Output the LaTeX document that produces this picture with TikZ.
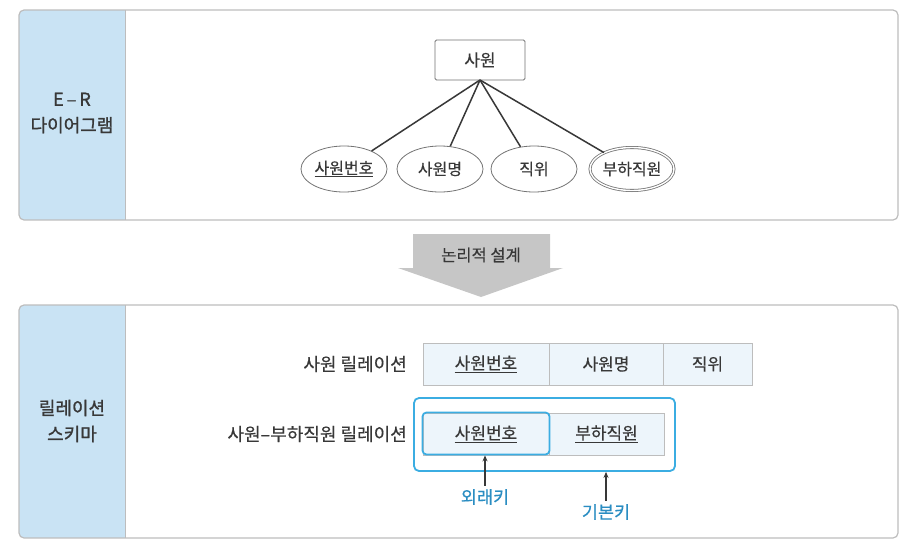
\documentclass[tikz,border=0pt]{standalone}
\usepackage{fontspec}
\setmainfont{Noto Sans CJK KR}
\newfontfamily\sidefont[FakeBold=1.2]{Noto Sans CJK KR}
\newfontfamily\bodyfont[FakeBold=0.4]{Noto Sans CJK KR}
\usetikzlibrary{shapes.geometric,arrows.meta}
\definecolor{sideblue}{HTML}{C9E3F4}
\definecolor{panelline}{HTML}{BDBDBD}
\definecolor{cellfill}{HTML}{EDF5FB}
\definecolor{keyblue}{HTML}{3BADE2}
\definecolor{labelblue}{HTML}{2A8DC2}
\definecolor{txt}{HTML}{383838}
\definecolor{arrowgray}{HTML}{C6C6C6}
\tikzset{
  panel/.style={draw=panelline, line width=1.2pt, rounded corners=5pt},
  sidetxt/.style={font=\sidefont\fontsize{18}{26}\selectfont, text=txt, align=center},
  attr/.style={ellipse, draw=txt!70, line width=0.8pt, minimum width=86pt, minimum height=46pt, font=\bodyfont\fontsize{16}{18}\selectfont, text=txt, inner sep=0pt},
  ent/.style={rectangle, draw=txt!70, line width=0.8pt, rounded corners=1.5pt, minimum width=90pt, minimum height=40pt, font=\bodyfont\fontsize{17}{19}\selectfont, text=txt},
  cell/.style={rectangle, draw=panelline, fill=cellfill, line width=1pt, minimum height=42pt, font=\bodyfont\fontsize{17}{19}\selectfont, text=txt, inner sep=0pt},
  reltxt/.style={anchor=east, font=\bodyfont\fontsize{18}{20}\selectfont, text=txt, inner sep=0pt},
  keytxt/.style={font=\bodyfont\fontsize{17.5}{20}\selectfont, text=labelblue},
  conn/.style={draw=txt, line width=1.5pt},
  keyarrow/.style={draw=txt, line width=1.3pt, -{Stealth[length=6pt,width=5pt]}}
}
\begin{document}
\begin{tikzpicture}[x=1pt,y=-1pt]
\useasboundingbox (0,0) rectangle (916,552);
% top panel
\begin{scope}
\clip[rounded corners=5pt] (19,10) rectangle (898,220);
\fill[white] (19,10) rectangle (898,220);
\fill[sideblue] (19,10) rectangle (125,220);
\end{scope}
\draw[panelline, line width=1pt] (125,10) -- (125,220);
\draw[panel] (19,10) rectangle (898,220);
\node[sidetxt] (lab1) at (72,113) {E\,–\,R\\다이어그램};
% ER
\node[ent] (emp) at (480,60) {사원};
\node[attr] (a1) at (344,169) {\underline{사원번호}};
\node[attr] (a2) at (440,169) {사원명};
\node[attr] (a3) at (534,169) {직위};
\node[attr, double, double distance=1.4pt, minimum width=84pt, minimum height=43pt] (a4) at (632,169) {부하직원};
\coordinate (hub) at (480,80);
\draw[conn] (hub) -- (a1);
\draw[conn] (hub) -- (a2);
\draw[conn] (hub) -- (a3);
\draw[conn] (hub) -- (a4);
% block arrow
\fill[arrowgray] (413,234) -- (550,234) -- (550,268) -- (563,268) -- (481,297) -- (398,268) -- (413,268) -- cycle;
\node[font=\bodyfont\fontsize{16.5}{18}\selectfont, text=txt] (design) at (481,255) {논리적 설계};
% bottom panel
\begin{scope}
\clip[rounded corners=5pt] (19,305) rectangle (898,538);
\fill[white] (19,305) rectangle (898,538);
\fill[sideblue] (19,305) rectangle (125,538);
\end{scope}
\draw[panelline, line width=1pt] (125,305) -- (125,538);
\draw[panel] (19,305) rectangle (898,538);
\node[sidetxt] (lab2) at (72,421) {릴레이션\\스키마};
% relation 1
\node[reltxt] (r1) at (407,364) {사원 릴레이션};
\node[cell, minimum width=126pt] (c11) at (486,364) {\underline{사원번호}};
\node[cell, minimum width=114pt] (c12) at (606,364) {사원명};
\node[cell, minimum width=89pt] (c13) at (707.5,364) {직위};
% relation 2
\node[reltxt] (r2) at (407,434) {사원–부하직원 릴레이션};
\node[cell, minimum width=126pt] (c21) at (486,434) {\underline{사원번호}};
\node[cell, minimum width=115pt] (c22) at (606.5,434) {\underline{부하직원}};
\node[draw=keyblue, line width=1.8pt, rounded corners=4pt, minimum width=127pt, minimum height=42pt, inner sep=0pt] (fkbox) at (486,433.5) {};
\node[draw=keyblue, line width=1.8pt, rounded corners=5pt, minimum width=261pt, minimum height=73pt, inner sep=0pt] (pkbox) at (544.5,434.5) {};
% keys
\node[keytxt] (fk) at (485,497) {외래키};
\node[keytxt] (pk) at (606,512) {기본키};
\draw[keyarrow] (fk.north) -- (fk.north |- fkbox.south);
\draw[keyarrow] (pk.north) -- (pk.north |- pkbox.south);
\end{tikzpicture}
\end{document}
